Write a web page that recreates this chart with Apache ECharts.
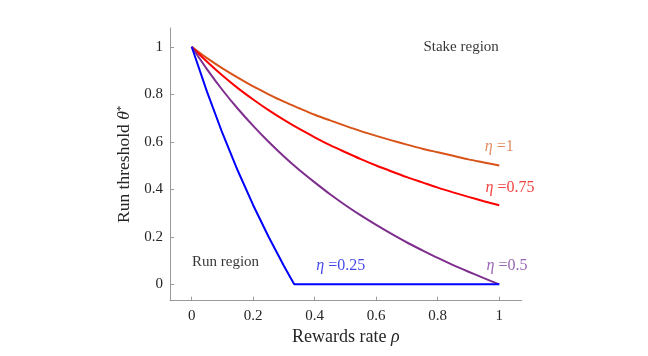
<!DOCTYPE html>
<html><head><meta charset="utf-8">
<script src="https://cdn.jsdelivr.net/npm/echarts@6/dist/echarts.min.js"></script>
<style>html,body{margin:0;padding:0;background:#fff}#c{width:648px;height:356px}</style>
</head><body><div id="c"></div>
<script>
var rho = [0,0.05,0.1,0.15,0.2,0.25,0.3,0.35,0.4,0.45,0.5,0.55,0.6,0.65,0.7,0.75,0.8,0.85,0.9,0.95,1];
var eta1 = [1,0.952,0.909,0.870,0.833,0.8,0.769,0.741,0.714,0.690,0.667,0.645,0.625,0.606,0.588,0.571,0.556,0.541,0.526,0.513,0.5];
var eta075 = [1,0.937,0.879,0.826,0.778,0.733,0.692,0.654,0.619,0.586,0.556,0.527,0.5,0.475,0.451,0.429,0.407,0.387,0.368,0.350,0.333];
var eta05 = [1,0.905,0.818,0.739,0.667,0.6,0.538,0.481,0.429,0.379,0.333,0.290,0.25,0.212,0.176,0.143,0.111,0.081,0.053,0.026,0];
var rho025 = [0,0.05,0.1,0.15,0.2,0.25,0.3,0.3333,1];
var eta025 = [1,0.810,0.636,0.478,0.333,0.2,0.077,0,0];
var xTicks = [0,0.2,0.4,0.6,0.8,1];
var yTicks = [0,0.2,0.4,0.6,0.8,1];
var annoText = ['Stake region','Run region','{i|η} =1','{i|η} =0.75','{i|η} =0.25','{i|η} =0.5'];
var annoX = [0.876,0.11,1.0,1.035,0.485,1.025];
var annoY = [0.997,0.095,0.579,0.408,0.077,0.077];
var annoColor = ['#000000','#000000','#D9703A','#F01010','#1515E8','#8040A0'];
var annoSize = [15,15,16,16,16,16];

function pairs(xs, ys){ return xs.map(function(x,i){return [x, ys[i]];}); }
var FONT = 'Liberation Serif';
var chart = echarts.init(document.getElementById('c'));
var lineBase = {type:'line', showSymbol:false, symbol:'none', smooth:0.3, lineStyle:{width:2}, silent:true, z:3};
chart.setOption({
  animation:false,
  backgroundColor:'#fff',
  grid:{left:170, right:126.3, top:28, bottom:55.3},
  xAxis:{type:'value', min:-0.0705, max:1.073,
    name:'Rewards rate {i|ρ}', nameLocation:'middle', nameGap:23,
    nameTextStyle:{fontFamily:FONT, fontSize:18, color:'#262626',
      rich:{i:{fontFamily:FONT, fontStyle:'italic', fontSize:18, color:'#262626'}}},
    axisLine:{show:true, onZero:false, lineStyle:{color:'#999', width:1}},
    axisTick:{show:true, inside:true, length:4, customValues:xTicks, lineStyle:{color:'#999'}},
    axisLabel:{customValues:xTicks, fontFamily:FONT, fontSize:15, color:'#262626', margin:8,
      formatter:function(v){return String(Math.round(v*10)/10);}},
    splitLine:{show:false}},
  yAxis:{type:'value', min:-0.069, max:1.079,
    name:'Run threshold {i|θ}{s|*}', nameLocation:'middle', nameGap:29, nameRotate:90,
    nameTextStyle:{fontFamily:FONT, fontSize:17.5, color:'#262626',
      rich:{i:{fontFamily:FONT, fontStyle:'italic', fontSize:17.5, color:'#262626'},
            s:{fontFamily:FONT, fontSize:11, color:'#262626', verticalAlign:'top', padding:[0,0,6,0]}}},
    axisLine:{show:true, onZero:false, lineStyle:{color:'#999', width:1}},
    axisTick:{show:true, inside:true, length:4, customValues:yTicks, lineStyle:{color:'#999'}},
    axisLabel:{customValues:yTicks, fontFamily:FONT, fontSize:15, color:'#262626', margin:7,
      formatter:function(v){return String(Math.round(v*10)/10);}},
    splitLine:{show:false}},
  series:[
    Object.assign({}, lineBase, {name:'eta1', data:pairs(rho, eta1), lineStyle:{width:2, color:'#D95319'}}),
    Object.assign({}, lineBase, {name:'eta075', data:pairs(rho, eta075), lineStyle:{width:2, color:'#FF0000'}}),
    Object.assign({}, lineBase, {name:'eta05', data:pairs(rho, eta05), lineStyle:{width:2, color:'#7E2F8E'}}),
    Object.assign({}, lineBase, {name:'eta025', smooth:false, data:pairs(rho025, eta025), lineStyle:{width:2, color:'#0000FF'}, z:4}),
    {type:'scatter', symbolSize:0, silent:true, z:5,
      data: annoX.map(function(x,i){
        return {value:[x, annoY[i]], label:{show:true, position:'inside', formatter:annoText[i],
          fontFamily:FONT, fontSize:annoSize[i], color:annoColor[i],
          rich:{i:{fontFamily:FONT, fontStyle:'italic', fontSize:annoSize[i], color:annoColor[i]}}}};
      })}
  ]
});
</script></body></html>
